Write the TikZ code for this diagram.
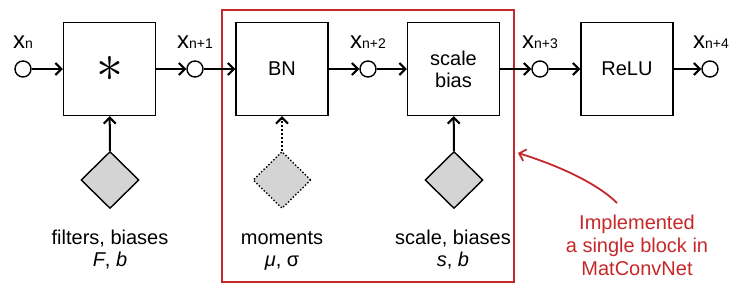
\documentclass[tikz,border=0pt]{standalone}
\usepackage{graphicx}
\usepackage{fontspec}
\setmainfont{Liberation Sans}
\usetikzlibrary{positioning, arrows.meta, shapes.geometric}
\definecolor{blockred}{RGB}{198,40,42}
\definecolor{paramgray}{RGB}{212,212,212}

\newcommand{\xvar}[1]{{\fontsize{24}{24}\selectfont x}{\fontsize{14}{14}\selectfont #1}}

\begin{document}
\begin{tikzpicture}[x=1pt, y=-1pt, >={Straight Barb[length=6pt, width=12pt]},
      font=\fontsize{20}{22}\selectfont,
      layer/.style={draw, line width=1.4pt, minimum width=92pt, minimum height=93pt, inner sep=0pt, align=center},
      var/.style={draw, circle, fill=white, line width=1.4pt, minimum size=16pt, inner sep=0pt},
      xlbl/.style={anchor=base, inner sep=0pt},
      param/.style={draw, diamond, fill=paramgray, line width=1.4pt, minimum width=58pt, minimum height=57pt, inner sep=0pt},
      flow/.style={->, line width=2pt},
      plbl/.style={align=center, inner sep=0pt, anchor=base}]
    \useasboundingbox (0,0) rectangle (740,292);
    % the block that MatConvNet implements as one
    \node[draw=blockred, line width=2.5pt, minimum width=292pt, minimum height=272pt, inner sep=0pt] (blk) at (368,146) {};
    \node[var] (c0) at (23,69) {};
    \node[layer] (conv) at (109.5,69) {\scalebox{2.6}{$\ast$}};
    \node[var] (c1) at (195,69) {};
    \node[layer] (bn) at (282,69) {BN};
    \node[var] (c2) at (368,69) {};
    \node[layer] (sb) at (453.5,69) {scale\\bias};
    \node[var] (c3) at (540,69) {};
    \node[layer] (relu) at (627,69) {ReLU};
    \node[var] (c4) at (710,69) {};
    \node[xlbl] (l0) at (23,48) {\xvar{n}};
    \node[xlbl] (l1) at (195,48) {\xvar{n+1}};
    \node[xlbl] (l2) at (368,48) {\xvar{n+2}};
    \node[xlbl] (l3) at (540,48) {\xvar{n+3}};
    \node[xlbl] (l4) at (711,48) {\xvar{n+4}};
    \draw[flow] (c0) -- (conv);
    \draw[flow] (conv) -- (c1);
    \draw[flow] (c1) -- (bn);
    \draw[flow] (bn) -- (c2);
    \draw[flow] (c2) -- (sb);
    \draw[flow] (sb) -- (c3);
    \draw[flow] (c3) -- (relu);
    \draw[flow] (relu) -- (c4);
    % parameters
    \node[param] (pf) at (110,180) {};
    \node[param, dotted] (pm) at (282,180) {};
    \node[param] (ps) at (454,180) {};
    \draw[flow] (pf) -- (conv);
    \draw[flow, dotted] (pm) -- (bn);
    \draw[flow] (ps) -- (sb);
    \node[plbl] (tf) at (110,266) {filters, biases\\\textit{F}, \textit{b}};
    \node[plbl] (tm) at (282,266) {moments\\\textit{μ}, σ};
    \node[plbl] (ts) at (453,266) {scale, biases\\\textit{s}, \textit{b}};
    % note
    \node[text=blockred, align=center, font=\fontsize{20}{23}\selectfont] (note) at (637,245)
      {Implemented\\a single block in\\MatConvNet};
    \coordinate (tail) at (617,203);
    \coordinate (tip) at (518,153);
    \draw[blockred, line width=1.8pt, ->] (tail) .. controls (598,184) and (560,166) .. (tip);
  \end{tikzpicture}
\end{document}
